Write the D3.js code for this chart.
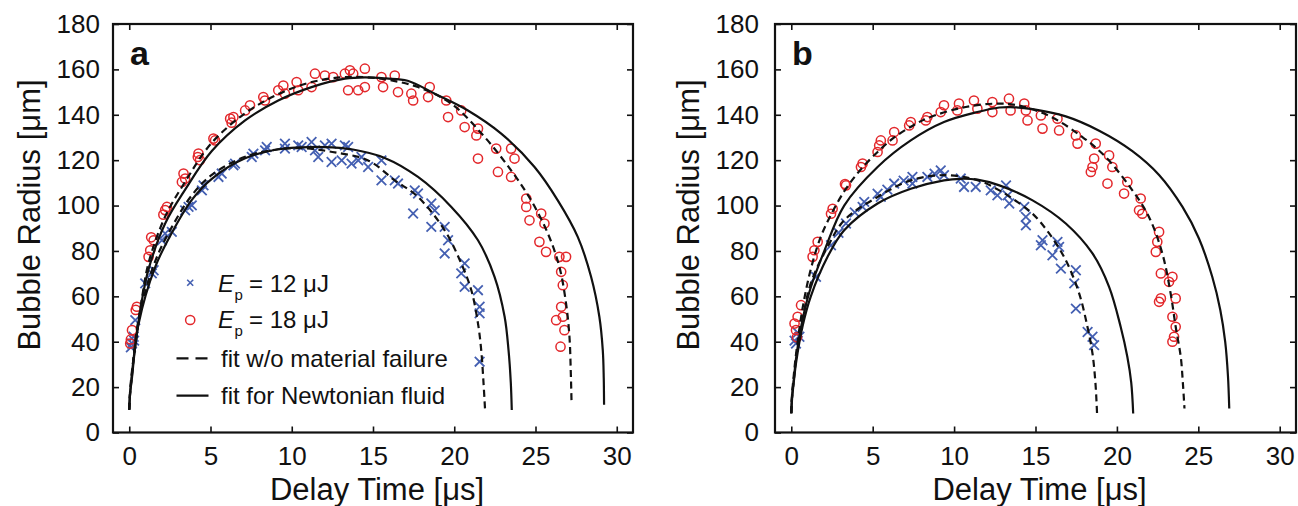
<!DOCTYPE html>
<html><head><meta charset="utf-8">
<script src="https://cdn.jsdelivr.net/npm/d3@7"></script>
<style>
body{margin:0;background:#fff}
svg{font-family:"Liberation Sans",Arial,Helvetica,sans-serif}
</style></head>
<body><svg id="chart" width="1298" height="506"></svg>
<script>
// ---------- tick labels ----------
const xTicks = [0, 5, 10, 15, 20, 25, 30];
const yTicks = [0, 20, 40, 60, 80, 100, 120, 140, 160, 180];
const panelLabels = ["a", "b"];
const legendLabels = ["= 12 μJ", "= 18 μJ", "fit w/o material failure", "fit for Newtonian fluid"];

// ---------- panel a : measured radii [delay µs, radius µm] ----------
const a12 = [[0.1,37.5],[0.17,39.2],[0.27,42.2],[0.3,40.5],[0.37,49.5],[0.98,65.7],[1.39,70.1],[1.5,71.5],[2.01,84.7],[2.21,87.7],[2.62,88.4],[3.44,97.9],[3.65,99.4],[3.85,100.1],[4.47,106.7],[4.57,108.9],[5.49,112.6],[5.69,114.1],[6.41,117.7],[6.51,118.5],[7.54,121.4],[7.64,122.9],[8.36,124.3],[8.46,125.8],[9.58,127.3],[9.58,125.1],[10.4,126.5],[10.61,125.8],[11.22,128.0],[11.43,124.3],[11.63,121.4],[12.04,126.5],[12.45,127.3],[12.45,119.2],[13.07,119.9],[13.27,126.5],[13.47,125.8],[13.68,118.5],[14.09,119.9],[14.29,121.4],[14.7,117.0],[15.52,119.9],[15.52,111.1],[16.34,111.1],[16.54,109.7],[17.57,106.7],[17.47,96.5],[17.77,105.3],[18.59,100.9],[18.8,97.9],[18.59,90.6],[19.41,90.6],[19.62,84.7],[19.41,78.9],[20.64,74.5],[20.43,70.1],[20.64,64.2],[21.46,62.7],[21.56,55.4],[21.56,52.5],[21.56,31.2]];
const a18 = [[0.06,39.2],[0.1,41],[0.17,45.1],[0.4,54],[0.47,55.4],[1.19,77.4],[1.29,80.3],[1.35,86],[1.5,84.7],[2.1,96],[2.21,98.0],[2.32,99.4],[3.24,110.4],[3.34,114.1],[3.44,111.9],[4.22,121.4],[4.26,122.9],[4.35,120],[5.18,129.5],[5.28,128.7],[6.21,138.3],[6.3,136.5],[6.41,139],[7.13,141.9],[7.43,144.2],[8.25,147.8],[8.35,146.3],[9.17,150.8],[9.48,152.9],[9.58,149.3],[10.3,154.4],[10.4,150.8],[11.22,152.2],[11.43,158.1],[12.04,157.3],[12.55,156.6],[13.27,158.1],[13.58,159.6],[13.47,150.8],[14.09,150.8],[13.78,158.1],[14.5,160.3],[14.5,152.2],[15.52,156.6],[15.62,152.2],[16.34,157.3],[16.54,150.0],[17.36,149.3],[17.47,146.3],[18.49,152.2],[18.39,147.8],[19.51,146.3],[19.62,139],[20.43,141.9],[20.64,134.6],[21.46,133.9],[21.36,130.9],[21.46,120.7],[22.58,125.1],[22.69,114.8],[23.5,125.1],[23.71,120.7],[23.5,112.6],[24.43,103.1],[24.43,99.4],[24.63,93.5],[25.35,96.5],[25.55,92.1],[25.24,84.0],[25.65,79.6],[26.47,77.4],[26.88,77.4],[26.58,70.8],[26.68,64.9],[26.58,55.4],[26.27,49.5],[26.68,51.0],[26.78,45.1],[26.54,37.8]];

// ---------- panel a : fit curves ----------
const aFail12 = [[0,10],[0.05,17],[0.15,24],[0.58,50],[1.6,75.5],[2.62,90.5],[3.85,104.5],[5.08,113.5],[7.13,121.5],[9.17,124.8],[10.8,125.2],[12.5,123.6],[14.7,119.9],[16.34,111.1],[17.77,103.8],[19.41,89.1],[20.43,74.5],[21.05,62.7],[21.46,48.1],[21.66,36.3],[21.8,22],[21.9,9.5]];
const aNewt12 = [[0,10],[0.05,17],[0.15,23],[0.58,48],[1.6,73],[2.62,88],[3.85,102.5],[5.08,111.8],[7.13,120.8],[9.17,124.8],[11.22,125.8],[12.5,125.6],[13.68,124.8],[15.72,121.0],[17.77,112.6],[19.82,99.4],[21.46,84.7],[22.48,68.6],[23.1,51.0],[23.34,36.3],[23.48,22],[23.54,9.9]];
const aFail18 = [[0,10],[0.05,18],[0.15,26],[0.4,40],[0.8,60],[1.2,75],[2.2,95],[3.4,110],[5,127],[7,140],[9,148.5],[11,154],[13,156.5],[14.5,156.6],[16,155.3],[17.77,152.2],[19.82,144.9],[21.87,130.2],[23.5,115.5],[24.73,102.3],[25.76,87.7],[26.47,73.0],[26.88,56.9],[27.09,42.2],[27.17,27],[27.22,12.5]];
const aNewt18 = [[0,10],[0.05,17],[0.15,25],[0.4,40],[0.75,57],[1.19,72],[2.21,92.1],[3.44,107],[5.08,124],[7.13,137.5],[9.17,146.3],[11.22,152.2],[13.27,155.9],[14.5,156.5],[15.8,156],[17.13,155.0],[18.8,149.3],[20.84,141.9],[22.89,131.7],[24.94,117.0],[26.37,102.3],[27.6,86.2],[28.42,68.6],[28.93,51.0],[29.14,36.3],[29.2,24],[29.22,12.2]];

// ---------- panel b : measured radii ----------
const b12 = [[0.2,40.5],[0.29,39.2],[0.4,44],[0.5,42.2],[1.52,68.6],[2.44,82.5],[2.9,88],[3.36,92.1],[3.9,97],[4.38,99.4],[4.48,101.6],[5.3,105.2],[5.5,103.8],[5.9,107],[6.32,109.7],[6.9,111],[7.44,112.6],[7.44,109.7],[8.36,112.6],[8.8,114],[9.18,115.5],[9.38,113.4],[10.41,111.9],[10.61,108.2],[11.33,108.2],[12.25,106.7],[12.66,104.5],[13.19,108.9],[13.29,104.5],[13.39,100.9],[14.31,99.4],[14.41,95.0],[14.41,91.3],[15.43,84.7],[15.33,82.5],[16.35,84.0],[16.45,81.8],[16.04,78.1],[16.56,72.2],[17.48,71.5],[17.38,65.7],[17.48,54.6],[18.2,44.3],[18.5,42.2],[18.6,38.5]];
const b18 = [[0.2,48],[0.29,45.1],[0.35,42],[0.39,51.0],[0.6,56.1],[1.31,77.4],[1.42,80.3],[1.62,84.0],[2.44,96.4],[2.54,98.6],[3.3,109.5],[3.36,108.9],[4.28,117.0],[4.38,118.5],[5.3,123.6],[5.4,126.5],[5.5,128.7],[6.22,128.7],[6.32,132.4],[7.24,135.3],[7.34,136.8],[8.26,137.5],[8.36,139.0],[9.18,141.2],[9.38,144.2],[10.2,141.9],[10.3,144.9],[11.22,146.3],[11.43,142.7],[12.35,145.6],[12.35,141.2],[13.37,147.1],[13.47,141.9],[14.31,144.9],[14.41,141.9],[14.51,137.5],[15.33,139.7],[15.43,133.9],[16.35,138.3],[16.45,133.1],[17.48,130.9],[17.58,127.3],[18.7,127.3],[18.6,120.7],[18.5,117.0],[19.52,122.1],[19.72,117.0],[19.42,109.7],[18.4,114.8],[20.64,110.4],[20.44,105.3],[21.46,103.1],[21.36,97.9],[21.56,96.4],[22.59,88.4],[22.48,84.0],[22.39,79.6],[22.7,70.1],[23.41,68.6],[23.2,66.4],[22.7,59.1],[22.59,57.6],[23.61,59.1],[23.41,51.0],[23.61,46.6],[23.51,42.2],[23.41,40.0]];

// ---------- panel b : fit curves ----------
const bFail12 = [[0,8.5],[0.05,16],[0.15,23],[0.3,33],[0.7,50],[1.21,66],[2.23,81.8],[3.25,93.5],[5.3,103.8],[7.34,111.1],[9.38,113.4],[11.43,111.2],[12.78,106.7],[13.8,102],[14.82,96.4],[15.84,87.7],[16.86,75.9],[17.68,61.3],[18.19,46.6],[18.5,34.8],[18.68,22],[18.78,8.4]];
const bNewt12 = [[0,8.5],[0.05,15],[0.15,22],[0.3,31],[0.7,47],[1.2,60],[2.23,77.4],[3.25,89.1],[5.3,100.9],[7.34,107.4],[9.38,111.1],[10.4,111.8],[11.43,111.4],[12.78,108.9],[14.82,102.3],[16.86,92.1],[18.5,78.9],[19.52,64.2],[20.23,46.6],[20.64,33.4],[20.88,22],[21.0,8.4]];
const bFail18 = [[0,8.5],[0.05,17],[0.15,25],[0.3,35],[0.7,55],[1.2,72],[1.8,86],[2.44,96],[3.32,107],[4.28,116],[5.43,124.5],[6.32,130],[7.53,135.5],[8.36,138.5],[10.41,143],[12.45,144.9],[13.8,144.3],[15.84,139.5],[17.88,130.2],[19.31,121.4],[20.95,106.7],[21.97,95.0],[22.79,78.9],[23.3,61.3],[23.61,46.6],[23.92,33.4],[24.05,22],[24.15,10.6]];
const bNewt18 = [[0,8.5],[0.05,16],[0.15,23],[0.3,33],[0.7,50],[1.2,64],[2.03,80],[3.25,100],[5.3,117],[7.34,128.7],[9.38,136.8],[11.43,141.2],[12.78,143.2],[13.47,143.4],[14.82,142.5],[16.86,139.3],[18.91,133],[20.95,124],[22.59,113.5],[24.02,99.5],[25.04,85.5],[25.86,68.5],[26.35,54],[26.65,40],[26.82,25],[26.9,10.6]];

// ---------- drawing ----------
const BLUE = "#4560b2", RED = "#e3282c", INK = "#111";
const svg = d3.select("#chart");

const panels = [
  {label: panelLabels[0], left: 113, right: 633, s12: a12, s18: a18, f12: aFail12, n12: aNewt12, f18: aFail18, n18: aNewt18, legend: true, ytitleX: 40, ylabOff: 13},
  {label: panelLabels[1], left: 775, right: 1296, s12: b12, s18: b18, f12: bFail12, n12: bNewt12, f18: bFail18, n18: bNewt18, legend: false, ytitleX: 699, ylabOff: 16}
];
const TOP = 24, BOTTOM = 432.5;

function crossPath(s) { return `M${-s},${-s}L${s},${s}M${-s},${s}L${s},${-s}`; }

panels.forEach(p => {
  const x = d3.scaleLinear().domain([-1, 31]).range([p.left, p.right]);
  const y = d3.scaleLinear().domain([0, 180]).range([BOTTOM, TOP]);
  const g = svg.append("g");

  // axes (inward ticks on all four sides)
  const tl = 6;
  g.append("g").attr("transform", `translate(0,${BOTTOM})`)
    .call(d3.axisBottom(x).tickValues(xTicks).tickSize(-tl).tickPadding(10).tickFormat(d3.format("d")))
    .call(a => { a.select(".domain").remove(); a.selectAll("text").attr("font-size", 26).attr("fill", INK).attr("dy", "0.71em").attr("y", 14); a.selectAll("line").attr("stroke", INK).attr("stroke-width", 1.6); });
  g.append("g").attr("transform", `translate(0,${TOP})`)
    .call(d3.axisTop(x).tickValues(xTicks).tickSize(-tl).tickFormat(""))
    .call(a => { a.select(".domain").remove(); a.selectAll("line").attr("stroke", INK).attr("stroke-width", 1.6); });
  g.append("g").attr("transform", `translate(${p.left},0)`)
    .call(d3.axisLeft(y).tickValues(yTicks).tickSize(-tl).tickPadding(p.ylabOff).tickFormat(d3.format("d")))
    .call(a => { a.select(".domain").remove(); a.selectAll("text").attr("font-size", 26).attr("fill", INK); a.selectAll("line").attr("stroke", INK).attr("stroke-width", 1.6); });
  g.append("g").attr("transform", `translate(${p.right},0)`)
    .call(d3.axisRight(y).tickValues(yTicks).tickSize(-tl).tickFormat(""))
    .call(a => { a.select(".domain").remove(); a.selectAll("line").attr("stroke", INK).attr("stroke-width", 1.6); });

  // clip
  const cid = "clip" + p.label;
  svg.append("clipPath").attr("id", cid).append("rect")
    .attr("x", p.left).attr("y", TOP).attr("width", p.right - p.left).attr("height", BOTTOM - TOP);
  const plot = g.append("g").attr("clip-path", `url(#${cid})`);

  // scatter
  plot.selectAll("path.x12").data(p.s12).join("path").attr("class", "x12")
    .attr("transform", d => `translate(${x(d[0])},${y(d[1])})`)
    .attr("d", crossPath(4.8)).attr("stroke", BLUE).attr("stroke-width", 1.8).attr("fill", "none");
  plot.selectAll("circle.c18").data(p.s18).join("circle").attr("class", "c18")
    .attr("cx", d => x(d[0])).attr("cy", d => y(d[1])).attr("r", 4.6)
    .attr("fill", "none").attr("stroke", RED).attr("stroke-width", 1.5);

  // fits
  const line = d3.line().x(d => x(d[0])).y(d => y(d[1])).curve(d3.curveCatmullRom.alpha(0.5));
  [p.n12, p.n18].forEach(c => plot.append("path").attr("d", line(c)).attr("fill", "none").attr("stroke", INK).attr("stroke-width", 2.2));
  [p.f12, p.f18].forEach(c => plot.append("path").attr("d", line(c)).attr("fill", "none").attr("stroke", INK).attr("stroke-width", 2.2).attr("stroke-dasharray", "7,4.5"));

  // frame
  g.append("rect").attr("x", p.left).attr("y", TOP).attr("width", p.right - p.left).attr("height", BOTTOM - TOP)
    .attr("fill", "none").attr("stroke", INK).attr("stroke-width", 2.2);

  // panel letter
  g.append("text").attr("x", p.left + 17).attr("y", 65).attr("font-size", 34).attr("font-weight", "bold").attr("fill", INK).text(p.label);

  // axis titles
  g.append("text").attr("x", x(15) + 4).attr("y", 500).attr("text-anchor", "middle").attr("font-size", 31).attr("fill", INK).text("Delay Time [μs]");
  g.append("text").attr("transform", `translate(${p.ytitleX},215) rotate(-90)`).attr("text-anchor", "middle")
    .attr("font-size", 31).attr("fill", INK).text("Bubble Radius [μm]");

  // legend
  if (p.legend) {
    const lx = 190.2, tx = 218;
    const lg = g.append("g");
    lg.append("path").attr("transform", `translate(${lx},282.7)`).attr("d", crossPath(3)).attr("stroke", BLUE).attr("stroke-width", 1.6).attr("fill", "none");
    lg.append("circle").attr("cx", lx).attr("cy", 320).attr("r", 4.6).attr("fill", "none").attr("stroke", RED).attr("stroke-width", 1.5);
    lg.append("line").attr("x1", 176.5).attr("x2", 208.5).attr("y1", 358.3).attr("y2", 358.3).attr("stroke", INK).attr("stroke-width", 2.2).attr("stroke-dasharray", "12,7");
    lg.append("line").attr("x1", 176.5).attr("x2", 208.5).attr("y1", 395.7).attr("y2", 395.7).attr("stroke", INK).attr("stroke-width", 2.2);
    [[291.7, legendLabels[0]], [328.3, legendLabels[1]]].forEach(([by, lab]) => {
      const t = lg.append("text").attr("x", tx).attr("y", by).attr("font-size", 24).attr("fill", INK);
      t.append("tspan").attr("font-style", "italic").text("E");
      t.append("tspan").attr("x", 234.5).attr("dy", 8).attr("font-size", 15).text("p");
      t.append("tspan").attr("x", 249).attr("dy", -8).text(lab);
    });
    lg.append("text").attr("x", 221).attr("y", 366.7).attr("font-size", 24).attr("fill", INK).text(legendLabels[2]);
    lg.append("text").attr("x", 221).attr("y", 404.3).attr("font-size", 24).attr("fill", INK).text(legendLabels[3]);
  }
});
</script>
</body></html>
